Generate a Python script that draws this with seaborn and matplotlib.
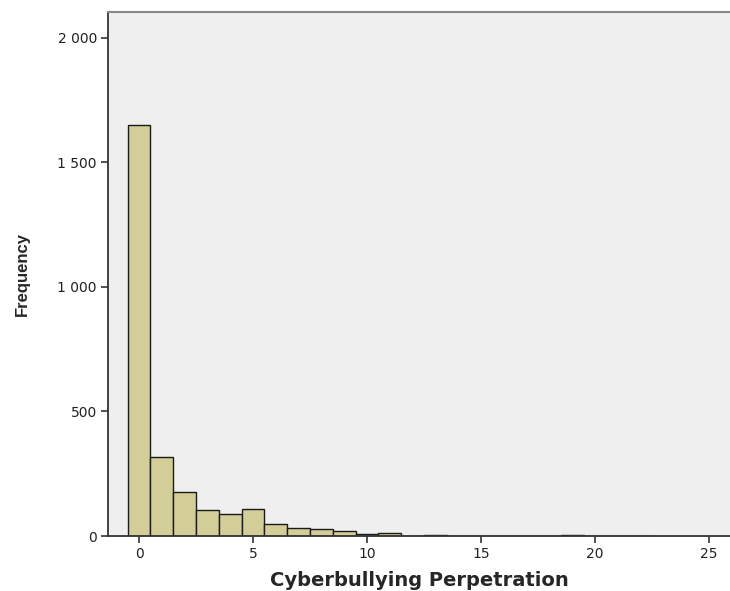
import matplotlib
matplotlib.use("Agg")
import matplotlib.pyplot as plt
import matplotlib.ticker as mticker
import pandas as pd
import seaborn as sns

# score values and their counts
SCORES = [0, 1, 2, 3, 4, 5, 6, 7, 8, 9, 10, 11, 12, 13, 14, 15, 16, 17, 18, 19, 20, 21, 22]
COUNTS = [1648, 317, 177, 104, 88, 108, 48, 32, 28, 20, 8, 11, 2, 5, 0, 1, 1, 0, 1, 4, 0, 2, 1]
X_TICKS = [0, 5, 10, 15, 20, 25]
Y_TICKS = [0, 500, 1000, 1500, 2000]

BAR_COLOR = "#D3CE97"
BG_COLOR = "#EFEFEF"

df = pd.DataFrame({"score": SCORES, "count": COUNTS})

sns.set_style("white")
plt.rcParams["font.family"] = ["DejaVu Sans"]

fig = plt.figure(figsize=(7.3, 5.91), dpi=100)
ax = fig.add_axes([0.148, 0.093, 0.852, 0.887])
ax.set_facecolor(BG_COLOR)

sns.histplot(
    data=df,
    x="score",
    weights="count",
    discrete=True,
    color=BAR_COLOR,
    alpha=1.0,
    edgecolor="#1a1a1a",
    linewidth=1.0,
    ax=ax,
)

ax.set_xlim(-1.36, 25.92)
ax.set_ylim(0, 2104)
ax.set_xticks(X_TICKS)
ax.set_yticks(Y_TICKS)
ax.yaxis.set_major_formatter(mticker.FuncFormatter(lambda v, _: f"{int(v):,}".replace(",", " ")))
ax.tick_params(axis="both", direction="out", length=5, width=1.2, color="#333333",
               labelsize=10, labelcolor="#222222", bottom=True, left=True, pad=3)

ax.set_xlabel("Cyberbullying Perpetration", fontsize=14, fontweight="bold", labelpad=7)
ax.set_ylabel("Frequency", fontsize=12, fontweight="bold", labelpad=20,
              family=["Liberation Sans", "DejaVu Sans"])

ax.spines["left"].set_color("#333333")
ax.spines["left"].set_linewidth(1.3)
ax.spines["bottom"].set_color("#333333")
ax.spines["bottom"].set_linewidth(1.3)
ax.spines["top"].set_color("#888888")
ax.spines["top"].set_linewidth(1.5)
ax.spines["right"].set_visible(False)

fig.savefig("out.png", dpi=100)
